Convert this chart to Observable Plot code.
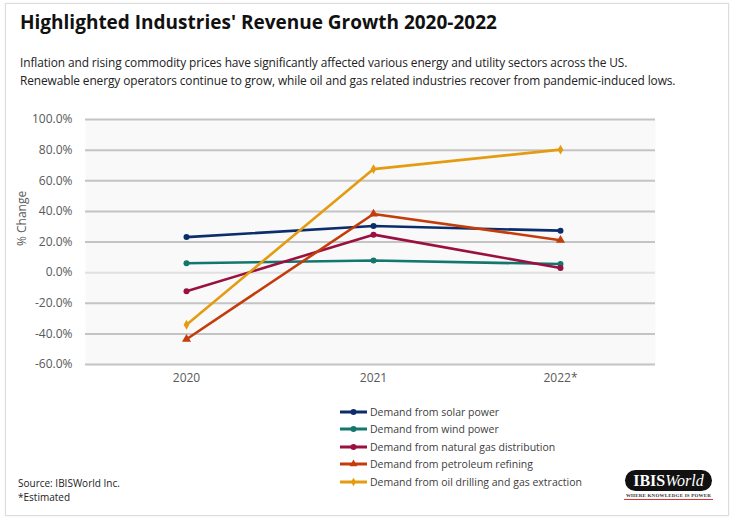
<!DOCTYPE html>
<html>
<head>
<meta charset="utf-8">
<script src="https://cdn.jsdelivr.net/npm/d3@7"></script>
<script src="https://cdn.jsdelivr.net/npm/@observablehq/plot@0.6"></script>
<style>
  html, body { margin: 0; padding: 0; background: #fff; }
  body { width: 734px; height: 522px; position: relative; overflow: hidden; font-family: "Open Sans", "Noto Sans", sans-serif; }
  #card { position: absolute; left: 5px; top: 3px; width: 722px; height: 511px; border: 1px solid #dcdcdc; box-shadow: 0 0 2px rgba(0,0,0,0.08); }
  #title { position: absolute; left: 20px; top: 9px; font-size: 19px; font-weight: 700; color: #111; letter-spacing: 0; white-space: nowrap; }
  #subtitle { position: absolute; left: 20px; top: 53px; font-size: 11.9px; line-height: 18px; color: #222; white-space: nowrap; letter-spacing: -0.1px; }
  #chart { position: absolute; left: 0; top: 100px; }
  #legend { position: absolute; left: 340px; top: 403px; font-size: 10.5px; color: #404040; }
  .item { display: flex; align-items: center; height: 17.5px; }
  .item svg { margin-right: 3px; }
  #source { position: absolute; left: 18px; top: 476px; font-size: 10px; line-height: 14px; color: #222; }
  #logo { position: absolute; left: 625px; top: 470px; width: 87px; height: 21px; background: #111; border-radius: 11px; color: #fff; text-align: center; font-family: "Liberation Serif", "DejaVu Serif", serif; font-size: 16px; line-height: 21px; }
  #logo b { font-weight: 700; }
  #logo i { font-style: italic; }
  #tag { position: absolute; left: 624px; top: 493px; width: 89px; text-align: center; font-family: "Liberation Serif", serif; font-size: 5px; font-weight: 700; color: #333; border-bottom: 1px solid #d33; letter-spacing: 0.2px; line-height: 6px; }
</style>
</head>
<body>
<div id="card"></div>
<div id="title">Highlighted Industries' Revenue Growth 2020-2022</div>
<div id="subtitle">Inflation and rising commodity prices have significantly affected various energy and utility sectors across the US.<br>Renewable energy operators continue to grow, while oil and gas related industries recover from pandemic-induced lows.</div>
<div id="chart"></div>
<div id="legend"></div>
<div id="source">Source: IBISWorld Inc.<br>*Estimated</div>
<div id="logo"><b>IBIS</b><i>World</i></div>
<div id="tag">WHERE KNOWLEDGE IS POWER</div>
<script>
const years = ["2020", "2021", "2022*"];
const seriesNames = [
  "Demand from solar power",
  "Demand from wind power",
  "Demand from natural gas distribution",
  "Demand from petroleum refining",
  "Demand from oil drilling and gas extraction"
];
const solar = [23.2, 30.4, 27.4];
const wind = [6.1, 7.9, 5.6];
const naturalGas = [-12.2, 24.8, 3.0];
const petroleum = [-43.5, 38.3, 21.2];
const oilDrilling = [-34.0, 67.6, 80.3];
const yTicks = [-60, -40, -20, 0, 20, 40, 60, 80, 100];

const colors = ["#0b2d6b", "#13766f", "#9a1040", "#c43c0a", "#e49b0f"];
const symbols = ["circle", "circle", "circle", "triangle", "diamond"];

const allSeries = [solar, wind, naturalGas, petroleum, oilDrilling];
const data = [];
allSeries.forEach((vals, i) => vals.forEach((v, j) => data.push({series: seriesNames[i], year: years[j], value: v})));

const chart = Plot.plot({
  width: 734,
  height: 290,
  marginLeft: 85,
  marginRight: 79,
  marginTop: 19,
  marginBottom: 26,
  style: {fontFamily: "'Open Sans', 'Noto Sans', sans-serif", fontSize: "12px", color: "#595959", background: "transparent"},
  x: {type: "point", domain: years, insetLeft: 100, insetRight: 95, padding: 0},
  y: {domain: [-60, 100]},
  color: {domain: seriesNames, range: colors},
  symbol: {domain: seriesNames, range: symbols},
  marks: [
    Plot.frame({fill: "#f9f9f9", stroke: null}),
    Plot.ruleY(yTicks, {stroke: d => d === 0 ? "#e0e0e0" : "#c4c4c4", strokeWidth: 2}),
    Plot.axisY(yTicks, {tickSize: 0, tickPadding: 13, tickFormat: d => d.toFixed(1) + "%", label: null, fill: "#595959", fontSize: 12}),
    Plot.axisX({tickSize: 0, tickPadding: 9, label: null, fill: "#595959", fontSize: 12}),
    Plot.text(["% Change"], {frameAnchor: "left", dx: -63, dy: 4, rotate: -90, fill: "#595959", fontSize: 12}),
    Plot.line(data, {x: "year", y: "value", z: "series", stroke: "series", strokeWidth: 2.6}),
    Plot.dot(data, {x: "year", y: "value", fill: "series", symbol: "series", r: d => d.series === seriesNames[3] ? 4.5 : 3.6})
  ]
});
document.getElementById("chart").appendChild(chart);

const legend = document.getElementById("legend");
const symFns = {circle: d3.symbolCircle, triangle: d3.symbolTriangle, diamond: d3.symbolDiamond};
seriesNames.forEach((name, i) => {
  const item = document.createElement("div");
  item.className = "item";
  const size = symbols[i] === "circle" ? 28 : symbols[i] === "triangle" ? 26 : 22;
  const path = d3.symbol(symFns[symbols[i]], size)();
  item.innerHTML = `<svg width="27" height="10"><line x1="0" x2="27" y1="5" y2="5" stroke="${colors[i]}" stroke-width="3"/><path d="${path}" transform="translate(13.5,5)" fill="${colors[i]}"/></svg><span>${name}</span>`;
  legend.appendChild(item);
});
</script>
</body>
</html>
